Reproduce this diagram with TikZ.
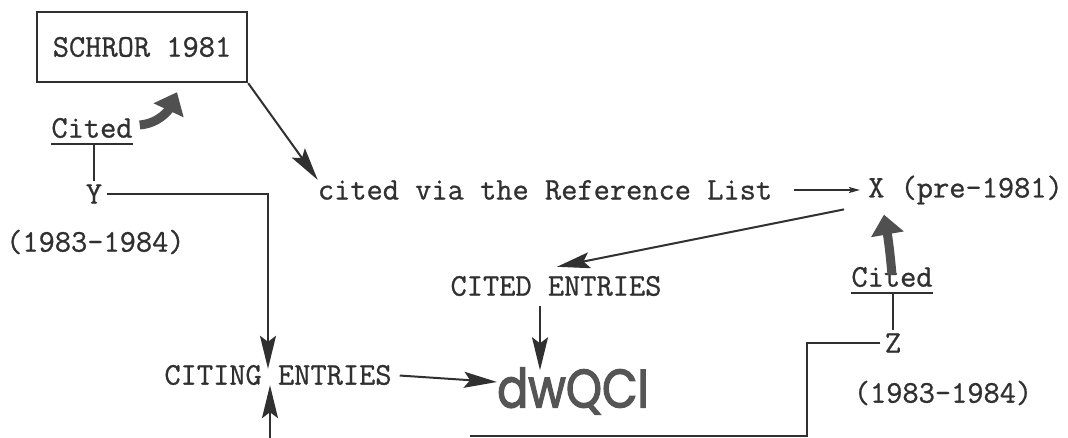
\documentclass[tikz,border=0pt]{standalone}
\usepackage{fontspec}
\newfontfamily\typew{Latin Modern Mono}[FakeBold=0.8]
\newfontfamily\logofont{Poppins}[FakeBold=2.6]
\usetikzlibrary{arrows.meta,calc}

\definecolor{ink}{HTML}{303030}
\definecolor{fat}{HTML}{505050}
\definecolor{logo}{HTML}{555555}

\begin{document}
\begin{tikzpicture}[x=1pt,y=-1pt,
  txt/.style={inner sep=0pt,text=ink,font=\typew\fontsize{31.5}{34}\selectfont},
  box/.style={txt,draw=ink,line width=2.4pt,minimum width=210pt,minimum height=70pt},
  wire/.style={draw=ink,line width=2pt},
  arr/.style={wire,-{Stealth[length=33pt,width=16pt,inset=6pt]}},
  thinarr/.style={draw=ink,line width=1.4pt,-{Stealth[length=11pt,width=6pt,inset=2pt]}},
  fatarrow/.style={draw=fat,line width=9pt,-{Triangle[length=20pt,width=32pt]}},
  logotxt/.style={inner sep=0pt,text=logo,font=\logofont\fontsize{54}{60}\selectfont}
]
\useasboundingbox (0,0) rectangle (1068,438);

% source paper and the reference-list path
\node[box] (schror) at (142,47) {SCHROR 1981};
\node[txt] (via) at (545,190) {cited via the Reference List};
\node[txt,anchor=east] (x) at (1063,190) {X (pre–1981)};

% citing paper Y
\node[txt] (citedL) at (92,128) {Cited};
\node[txt] (yL) at (94,194) {Y};
\node[txt,anchor=west] (datesL) at (6,242) {(1983–1984)};

% citing paper Z
\node[txt] (citedR) at (892,277) {Cited};
\node[txt] (zR) at (893,343) {Z};
\node[txt] (datesR) at (943,393) {(1983–1984)};

% entries and the index
\node[txt] (cited) at (556,286) {CITED ENTRIES};
\node[txt] (citing) at (278,375) {CITING ENTRIES};
\node[logotxt] (dwq) at (573,391) {\scalebox{0.85}[1]{dwQCI}};

% corners of the open lines at the lower edge
\coordinate (lowL) at (270,438);
\coordinate (lowR) at (807,436);
\coordinate (lowEnd) at (470,436);

% underlines and stems of the "Cited" labels
\draw[wire] ([yshift=-6pt]citedL.south west) -- ([yshift=-6pt]citedL.south east);
\draw[wire] ([yshift=-6pt]citedL.south -| yL.north) -- ([yshift=3pt]yL.north);
\draw[wire] ([yshift=-6pt]citedR.south west) -- ([yshift=-6pt]citedR.south east);
\draw[wire] ([yshift=-6pt]citedR.south -| zR.north) -- ([yshift=3pt]zR.north);

% bent "cited" arrows
\draw[fatarrow] ([xshift=7pt,yshift=3pt]citedL.east) to[out=5,in=-115] ([xshift=35pt,yshift=-9pt]schror.south);
\draw[fatarrow] ([yshift=-8pt]citedR.north) to[out=95,in=-80] ([xshift=16pt,yshift=-10pt]x.south west);

% reference-list flow
\draw[arr] (schror.south east) -- (via.north west);
\draw[thinarr,shorten <=22pt,shorten >=8pt] (via.east) -- (x.west);
\draw[arr,shorten <=4pt] ([xshift=-20pt,yshift=-4pt]x.south west) -- ([xshift=1pt,yshift=9pt]cited.north);

% into the index
\draw[arr,shorten <=10pt] ([xshift=-16pt]cited.south) -- ([xshift=-16pt,yshift=-3pt]cited.south |- dwq.north);
\draw[arr,shorten <=8pt] (citing.east) -- ([yshift=9pt]dwq.west);

% lines from the citing papers
\draw[arr,shorten <=5pt,shorten >=-4pt] (yL.east) -| ([xshift=-10pt]citing.north);
\draw[arr] (lowL) -- ([xshift=-8pt]citing.south);
\draw[wire,shorten <=5pt] (zR.west) -| (lowR) -- (lowEnd);
\end{tikzpicture}
\end{document}
